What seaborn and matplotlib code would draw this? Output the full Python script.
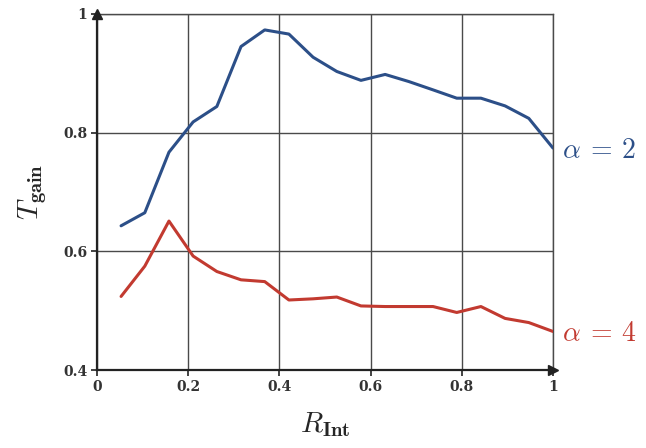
import numpy as np
import pandas as pd
import matplotlib
matplotlib.use("Agg")
import matplotlib.pyplot as plt
import seaborn as sns

# ---- data ----
r_int = [0.053, 0.105, 0.158, 0.211, 0.263, 0.316, 0.368, 0.421, 0.474, 0.526,
         0.579, 0.632, 0.684, 0.737, 0.789, 0.842, 0.895, 0.947, 1.0]
t_gain_a2 = [0.643, 0.665, 0.767, 0.818, 0.844, 0.945, 0.973, 0.966, 0.927, 0.903,
             0.888, 0.898, 0.886, 0.872, 0.858, 0.858, 0.845, 0.824, 0.774]
t_gain_a4 = [0.524, 0.575, 0.651, 0.592, 0.566, 0.552, 0.549, 0.518, 0.520, 0.523,
             0.508, 0.507, 0.507, 0.507, 0.497, 0.507, 0.487, 0.480, 0.465]
series_labels = [r"$\alpha\:=\:2$", r"$\alpha\:=\:4$"]
x_ticks = [0, 0.2, 0.4, 0.6, 0.8, 1.0]
x_tick_labels = ["0", "0.2", "0.4", "0.6", "0.8", "1"]
y_ticks = [0.4, 0.6, 0.8, 1.0]
y_tick_labels = ["0.4", "0.6", "0.8", "1"]

BLUE = "#2c4f88"
RED = "#c23a30"

df = pd.DataFrame({
    "R": r_int + r_int,
    "T": t_gain_a2 + t_gain_a4,
    "series": [series_labels[0]] * len(r_int) + [series_labels[1]] * len(r_int),
})

sns.set_style("white")
plt.rcParams["mathtext.fontset"] = "cm"
plt.rcParams["font.family"] = ["DejaVu Serif"]

fig = plt.figure(figsize=(6.46, 4.48), dpi=100)
ax = fig.add_axes([0.150, 0.174, 0.706, 0.795])

sns.lineplot(data=df, x="R", y="T", hue="series",
             palette={series_labels[0]: BLUE, series_labels[1]: RED},
             linewidth=2.2, legend=False, ax=ax, zorder=3)

ax.set_xlim(0, 1)
ax.set_ylim(0.4, 1.0)
ax.set_xticks(x_ticks)
ax.set_yticks(y_ticks)
ax.set_xticklabels(x_tick_labels, fontsize=10, fontweight="bold")
ax.set_yticklabels(y_tick_labels, fontsize=10, fontweight="bold")
ax.tick_params(axis="both", direction="out", length=4, width=1.2, color="#222222",
               pad=3, labelcolor="#333333")
ax.tick_params(axis="x", bottom=True)
ax.tick_params(axis="y", left=True)

ax.grid(True, color="#4a4a4a", linewidth=1.0)
for s in ax.spines.values():
    s.set_color("#4a4a4a")
    s.set_linewidth(1.0)
ax.spines["left"].set_color("#222222")
ax.spines["left"].set_linewidth(1.6)
ax.spines["bottom"].set_color("#222222")
ax.spines["bottom"].set_linewidth(1.6)

# arrowheads on axes
ax.plot([0], [1], marker="^", color="#222222", markersize=7, transform=ax.transAxes,
        clip_on=False, zorder=5)
ax.plot([1], [0], marker=">", color="#222222", markersize=7, transform=ax.transAxes,
        clip_on=False, zorder=5)

ax.set_xlabel(r"$R_{\mathbf{Int}}$", fontsize=21, labelpad=12)
ax.set_ylabel(r"$T_{\mathbf{gain}}$", fontsize=21, labelpad=10)

# series labels at the right end
ax.text(1.02, t_gain_a2[-1] - 0.004, series_labels[0], color=BLUE, fontsize=20,
        transform=ax.get_yaxis_transform(), va="center", ha="left")
ax.text(1.02, t_gain_a4[-1] - 0.004, series_labels[1], color=RED, fontsize=20,
        transform=ax.get_yaxis_transform(), va="center", ha="left")

fig.savefig("out.png", dpi=100)
